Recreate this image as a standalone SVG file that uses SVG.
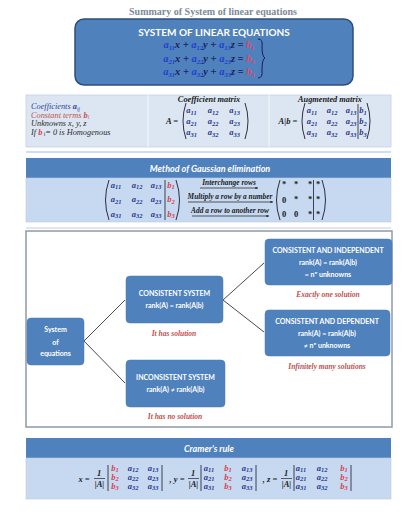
<svg xmlns="http://www.w3.org/2000/svg" width="419" height="520" viewBox="0 0 419 520">
<style>
.title{font-family:"Liberation Serif",serif;font-weight:bold;font-size:10px;fill:#7d8a99;text-anchor:middle}
.hdr{font-family:Lato,"Liberation Sans",sans-serif;font-weight:bold;fill:#fff;text-anchor:middle}
.hi{font-style:italic;font-size:9px}
.eq{font-family:"Liberation Serif",serif;font-weight:bold;font-style:italic;font-size:10.5px;fill:#1b1f5e;text-anchor:middle}
.ea{fill:#2140d0}
.eb{fill:#e0466a}
.s{font-size:6.5px}
.m{font-family:"Liberation Serif",serif;font-weight:bold;font-style:italic;font-size:8.5px;fill:#2b3990;text-anchor:middle}
.mb{fill:#d8404a}
.d{fill:#222}
.lt{font-family:"Liberation Serif",serif;font-style:italic;font-size:8.3px}
.th{font-family:"Liberation Serif",serif;font-weight:bold;font-style:italic;font-size:8.3px;fill:#1a1a1a;text-anchor:middle}
.lab{font-family:"Liberation Serif",serif;font-weight:bold;font-style:italic;font-size:7.4px;fill:#1a1a1a;text-anchor:middle}
.par{fill:none;stroke:#1a1a2e;stroke-width:0.9}
.bar{stroke:#1a1a2e;stroke-width:0.8}
.box{fill:#4f81bd;stroke:#4a78b0;stroke-width:0.5}
.bt{font-family:Lato,"Liberation Sans",sans-serif;font-weight:bold;font-size:7px;fill:#fff;text-anchor:middle}
.red{font-family:"Liberation Serif",serif;font-weight:bold;font-style:italic;font-size:7.5px;fill:#c0504d;text-anchor:middle}
.conn{stroke:#4a4a4a;stroke-width:1;fill:none}
.arr{stroke:#1a1a1a;stroke-width:0.7;marker-end:url(#ah)}
</style>
<defs>
<marker id="ah" viewBox="0 0 6 6" refX="5.5" refY="3" markerWidth="4" markerHeight="4" orient="auto"><path d="M0,0.5 L6,3 L0,5.5 Z" fill="#1a1a1a"/></marker>
</defs>
<rect width="419" height="520" fill="#fff"/>

<g id="title"><text class="title" x="213" y="15">Summary of System of linear equations</text></g>

<g id="system-box">
<rect x="75" y="19" width="278" height="66" rx="9" fill="#4f81bd" stroke="#2f4f7a" stroke-width="1.5"/>
<text class="hdr" x="214" y="36" font-size="10">SYSTEM OF LINEAR EQUATIONS</text>
<text class="eq" x="209" y="48"><tspan class="ea">a</tspan><tspan class="ea s" dy="2">11</tspan><tspan dy="-2">x + </tspan><tspan class="ea">a</tspan><tspan class="ea s" dy="2">12</tspan><tspan dy="-2">y + </tspan><tspan class="ea">a</tspan><tspan class="ea s" dy="2">13</tspan><tspan dy="-2">z = </tspan><tspan class="eb">b</tspan><tspan class="eb s" dy="2">1</tspan></text>
<text class="eq" x="209" y="61.5"><tspan class="ea">a</tspan><tspan class="ea s" dy="2">21</tspan><tspan dy="-2">x + </tspan><tspan class="ea">a</tspan><tspan class="ea s" dy="2">22</tspan><tspan dy="-2">y + </tspan><tspan class="ea">a</tspan><tspan class="ea s" dy="2">23</tspan><tspan dy="-2">z = </tspan><tspan class="eb">b</tspan><tspan class="eb s" dy="2">2</tspan></text>
<text class="eq" x="209" y="75"><tspan class="ea">a</tspan><tspan class="ea s" dy="2">31</tspan><tspan dy="-2">x + </tspan><tspan class="ea">a</tspan><tspan class="ea s" dy="2">32</tspan><tspan dy="-2">y + </tspan><tspan class="ea">a</tspan><tspan class="ea s" dy="2">33</tspan><tspan dy="-2">z = </tspan><tspan class="eb">b</tspan><tspan class="eb s" dy="2">3</tspan></text>
<path d="M258,39 Q263,39 262,46 Q262,57 265,58 Q262,59 262,70 Q263,78 258,78" fill="none" stroke="#1b1f5e" stroke-width="1"/>
</g>

<g id="summary-table">
<rect x="26" y="95" width="365" height="52" fill="#dce6f2" stroke="#c5d3e6" stroke-width="0.8"/>
<line x1="148" y1="95" x2="148" y2="147" stroke="#f4f7fb" stroke-width="1"/>
<line x1="269" y1="95" x2="269" y2="147" stroke="#f4f7fb" stroke-width="1"/>
<text class="lt" x="31" y="109" fill="#2f3e9e">Coefficients <tspan font-weight="bold">a</tspan><tspan font-size="5.5px" dy="1.5">ij</tspan></text>
<text class="lt" x="31" y="117.5" fill="#c0504d">Constant terms <tspan font-weight="bold">b</tspan><tspan font-size="5.5px" dy="1.5">i</tspan></text>
<text class="lt" x="31" y="126" fill="#2a2a2a">Unknowns x, y, z</text>
<text class="lt" x="31" y="134.5" fill="#2a2a2a">If <tspan font-weight="bold" fill="#d8404a">b</tspan><tspan font-size="5.5px" dy="1.5"> i</tspan><tspan dy="-1.5">= 0 is Homogenous</tspan></text>

<text class="th" x="209" y="102">Coefficient matrix</text>
<text class="m d" x="172" y="124" font-weight="normal">A =</text>
<path class="par" d="M186,103 Q180,121 186,139"/>
<path class="par" d="M245,103 Q251,121 245,139"/>
<text class="m" x="191.5" y="113">a<tspan class="s" dy="1.5">11</tspan></text>
<text class="m" x="213" y="113">a<tspan class="s" dy="1.5">12</tspan></text>
<text class="m" x="234.5" y="113">a<tspan class="s" dy="1.5">13</tspan></text>
<text class="m" x="191.5" y="124">a<tspan class="s" dy="1.5">21</tspan></text>
<text class="m" x="213" y="124">a<tspan class="s" dy="1.5">22</tspan></text>
<text class="m" x="234.5" y="124">a<tspan class="s" dy="1.5">23</tspan></text>
<text class="m" x="191.5" y="135">a<tspan class="s" dy="1.5">31</tspan></text>
<text class="m" x="213" y="135">a<tspan class="s" dy="1.5">32</tspan></text>
<text class="m" x="234.5" y="135">a<tspan class="s" dy="1.5">33</tspan></text>

<text class="th" x="330" y="102">Augmented matrix</text>
<text class="m d" x="288" y="124" font-weight="normal">A|b =</text>
<path class="par" d="M305,103 Q299,121 305,139"/>
<path class="par" d="M367,103 Q373,121 367,139"/>
<line class="bar" x1="358" y1="104" x2="358" y2="139"/>
<text class="m" x="312" y="113">a<tspan class="s" dy="1.5">11</tspan></text>
<text class="m" x="332" y="113">a<tspan class="s" dy="1.5">12</tspan></text>
<text class="m" x="351" y="113">a<tspan class="s" dy="1.5">13</tspan></text>
<text class="m" x="312" y="124">a<tspan class="s" dy="1.5">21</tspan></text>
<text class="m" x="332" y="124">a<tspan class="s" dy="1.5">22</tspan></text>
<text class="m" x="351" y="124">a<tspan class="s" dy="1.5">23</tspan></text>
<text class="m" x="312" y="135">a<tspan class="s" dy="1.5">31</tspan></text>
<text class="m" x="332" y="135">a<tspan class="s" dy="1.5">32</tspan></text>
<text class="m" x="351" y="135">a<tspan class="s" dy="1.5">33</tspan></text>
<text class="m" x="363" y="113" fill="#d86a7a" font-weight="normal">b<tspan class="s" dy="1.5">1</tspan></text>
<text class="m" x="363" y="124" fill="#d86a7a" font-weight="normal">b<tspan class="s" dy="1.5">2</tspan></text>
<text class="m" x="363" y="135" fill="#d86a7a" font-weight="normal">b<tspan class="s" dy="1.5">3</tspan></text>
</g>
<line x1="26" y1="152" x2="391" y2="152" stroke="#9fbbdc" stroke-width="1"/>

<g id="gaussian">
<rect x="26" y="158" width="365" height="20" fill="#4f81bd"/>
<rect x="26" y="178" width="365" height="44" fill="#c6d9f1" stroke="#b8cbe2" stroke-width="0.6"/>
<text class="hdr hi" x="210" y="171.5">Method of Gaussian elimination</text>
<path class="par" d="M109,180 Q102,200 109,220"/>
<path class="par" d="M176,180 Q183,200 176,220"/>
<line class="bar" x1="165" y1="180" x2="165" y2="220"/>
<text class="m" x="116" y="187.5" font-size="9px">a<tspan class="s" dy="1.5">11</tspan></text>
<text class="m" x="137" y="187.5" font-size="9px">a<tspan class="s" dy="1.5">12</tspan></text>
<text class="m" x="156" y="187.5" font-size="9px">a<tspan class="s" dy="1.5">13</tspan></text>
<text class="m" x="116" y="202" font-size="9px">a<tspan class="s" dy="1.5">21</tspan></text>
<text class="m" x="137" y="202" font-size="9px">a<tspan class="s" dy="1.5">22</tspan></text>
<text class="m" x="156" y="202" font-size="9px">a<tspan class="s" dy="1.5">23</tspan></text>
<text class="m" x="116" y="216.5" font-size="9px">a<tspan class="s" dy="1.5">31</tspan></text>
<text class="m" x="137" y="216.5" font-size="9px">a<tspan class="s" dy="1.5">32</tspan></text>
<text class="m" x="156" y="216.5" font-size="9px">a<tspan class="s" dy="1.5">33</tspan></text>
<text class="m mb" x="171" y="187.5" font-size="9px">b<tspan class="s" dy="1.5">1</tspan></text>
<text class="m mb" x="171" y="202" font-size="9px">b<tspan class="s" dy="1.5">2</tspan></text>
<text class="m mb" x="171" y="216.5" font-size="9px">b<tspan class="s" dy="1.5">3</tspan></text>

<text class="lab" x="229" y="185">Interchange rows</text>
<line class="arr" x1="200" y1="188" x2="258" y2="188"/>
<text class="lab" x="230" y="199">Multiply a row by a number</text>
<line class="arr" x1="188" y1="202" x2="273" y2="202"/>
<text class="lab" x="230" y="213">Add a row to another row</text>
<line class="arr" x1="192" y1="216" x2="269" y2="216"/>

<path class="par" d="M280,180 Q273,200 280,220"/>
<path class="par" d="M322,180 Q329,200 322,220"/>
<line class="bar" x1="313.5" y1="180" x2="313.5" y2="220"/>
<g font-family="Liberation Serif,serif" font-weight="bold" font-size="8.5px" fill="#1a1a1a" text-anchor="middle">
<text x="284" y="187">*</text><text x="296" y="187">*</text><text x="310" y="187">*</text><text x="318" y="187">*</text>
<text x="284" y="202.5">0</text><text x="296" y="202">*</text><text x="310" y="202">*</text><text x="318" y="202">*</text>
<text x="284" y="217">0</text><text x="296" y="217">0</text><text x="310" y="216.5">*</text><text x="318" y="216.5">*</text>
</g>
</g>
<line x1="26" y1="228" x2="391" y2="228" stroke="#c8ccd2" stroke-width="1"/>

<rect x="26" y="231" width="366" height="196" fill="#fff" stroke="#8d9aab" stroke-width="1.5"/>

<g id="connectors">
<path class="conn" d="M84,341 L125,300"/>
<path class="conn" d="M84,341 L125,383"/>
<path class="conn" d="M223,300 L264,263"/>
<path class="conn" d="M223,300 L264,332"/>
</g>

<g id="node-system">
<rect class="box" x="27" y="318" width="57" height="47" rx="4"/>
<text class="bt" x="55.5" y="332" font-weight="normal" font-size="7.3">System</text>
<text class="bt" x="55.5" y="344.5" font-weight="normal" font-size="7.3">of</text>
<text class="bt" x="55.5" y="356" font-weight="normal" font-size="7.3">equations</text>
</g>

<g id="node-consistent">
<rect class="box" x="126" y="276" width="97" height="47" rx="4"/>
<text class="bt" x="174.5" y="295.5" font-size="7.3">CONSISTENT SYSTEM</text>
<text class="bt" x="174.5" y="307.5" font-size="7.3">rank(A) = rank(A|b)</text>
<text class="red" x="174" y="335.5">It has solution</text>
</g>

<g id="node-inconsistent">
<rect class="box" x="126" y="360" width="99" height="47" rx="4"/>
<text class="bt" x="175.5" y="379.5" font-size="7.3">INCONSISTENT SYSTEM</text>
<text class="bt" x="175.5" y="391.5" font-size="7.3">rank(A) ≠ rank(A|b)</text>
<text class="red" x="175" y="418.5">It has no solution</text>
</g>

<g id="node-independent">
<rect class="box" x="265" y="239" width="127" height="46" rx="4"/>
<text class="bt" x="328" y="252.5">CONSISTENT AND INDEPENDENT</text>
<text class="bt" x="328" y="264.5">rank(A) = rank(A|b)</text>
<text class="bt" x="328" y="276.5">= nº unknowns</text>
<text class="red" x="328" y="296.5">Exactly one solution</text>
</g>

<g id="node-dependent">
<rect class="box" x="265" y="310" width="125" height="46" rx="4"/>
<text class="bt" x="327" y="323.5">CONSISTENT AND DEPENDENT</text>
<text class="bt" x="327" y="335.5">rank(A) = rank(A|b)</text>
<text class="bt" x="327" y="347.5">≠ nº unknowns</text>
<text class="red" x="327" y="368.5">Infinitely many solutions</text>
</g>

<g id="cramer">
<rect x="26" y="438" width="365" height="20" fill="#4f81bd"/>
<rect x="26" y="458" width="365" height="41" fill="#c6d9f1" stroke="#b8cbe2" stroke-width="0.6"/>
<text class="hdr hi" x="209" y="451.5">Cramer's rule</text>
<g class="m" font-size="7.6px">
<text x="84" y="481.5" class="d" font-size="8.5px">x =</text>
<text x="99" y="476" class="d">1</text>
<line x1="94" y1="478.5" x2="105" y2="478.5" stroke="#222" stroke-width="0.7"/>
<text x="99.5" y="486.5" class="d">|A|</text>
<line class="bar" x1="108" y1="465" x2="108" y2="491"/>
<line class="bar" x1="162" y1="465" x2="162" y2="491"/>
<text x="115" y="471" class="mb">b<tspan class="s" dy="1">1</tspan></text>
<text x="115" y="480" class="mb">b<tspan class="s" dy="1">2</tspan></text>
<text x="115" y="489" class="mb">b<tspan class="s" dy="1">3</tspan></text>
<text x="133" y="471">a<tspan class="s" dy="1">12</tspan></text>
<text x="133" y="480">a<tspan class="s" dy="1">22</tspan></text>
<text x="133" y="489">a<tspan class="s" dy="1">32</tspan></text>
<text x="153" y="471">a<tspan class="s" dy="1">13</tspan></text>
<text x="153" y="480">a<tspan class="s" dy="1">23</tspan></text>
<text x="153" y="489">a<tspan class="s" dy="1">33</tspan></text>

<text x="177" y="481.5" class="d" font-size="8.5px">, y =</text>
<text x="193" y="476" class="d">1</text>
<line x1="188" y1="478.5" x2="199" y2="478.5" stroke="#222" stroke-width="0.7"/>
<text x="193.5" y="486.5" class="d">|A|</text>
<line class="bar" x1="201" y1="465" x2="201" y2="491"/>
<line class="bar" x1="256" y1="465" x2="256" y2="491"/>
<text x="209" y="471">a<tspan class="s" dy="1">11</tspan></text>
<text x="209" y="480">a<tspan class="s" dy="1">21</tspan></text>
<text x="209" y="489">a<tspan class="s" dy="1">31</tspan></text>
<text x="228" y="471" class="mb">b<tspan class="s" dy="1">1</tspan></text>
<text x="228" y="480" class="mb">b<tspan class="s" dy="1">2</tspan></text>
<text x="228" y="489" class="mb">b<tspan class="s" dy="1">3</tspan></text>
<text x="247" y="471">a<tspan class="s" dy="1">13</tspan></text>
<text x="247" y="480">a<tspan class="s" dy="1">23</tspan></text>
<text x="247" y="489">a<tspan class="s" dy="1">33</tspan></text>

<text x="270" y="481.5" class="d" font-size="8.5px">, z =</text>
<text x="286" y="476" class="d">1</text>
<line x1="281" y1="478.5" x2="292" y2="478.5" stroke="#222" stroke-width="0.7"/>
<text x="286.5" y="486.5" class="d">|A|</text>
<line class="bar" x1="294" y1="465" x2="294" y2="491"/>
<line class="bar" x1="351" y1="465" x2="351" y2="491"/>
<text x="301" y="471">a<tspan class="s" dy="1">11</tspan></text>
<text x="301" y="480">a<tspan class="s" dy="1">21</tspan></text>
<text x="301" y="489">a<tspan class="s" dy="1">31</tspan></text>
<text x="322" y="471">a<tspan class="s" dy="1">12</tspan></text>
<text x="322" y="480">a<tspan class="s" dy="1">22</tspan></text>
<text x="322" y="489">a<tspan class="s" dy="1">32</tspan></text>
<text x="344" y="471" class="mb">b<tspan class="s" dy="1">1</tspan></text>
<text x="344" y="480" class="mb">b<tspan class="s" dy="1">2</tspan></text>
<text x="344" y="489" class="mb">b<tspan class="s" dy="1">3</tspan></text>
</g>
</g>
</svg>
